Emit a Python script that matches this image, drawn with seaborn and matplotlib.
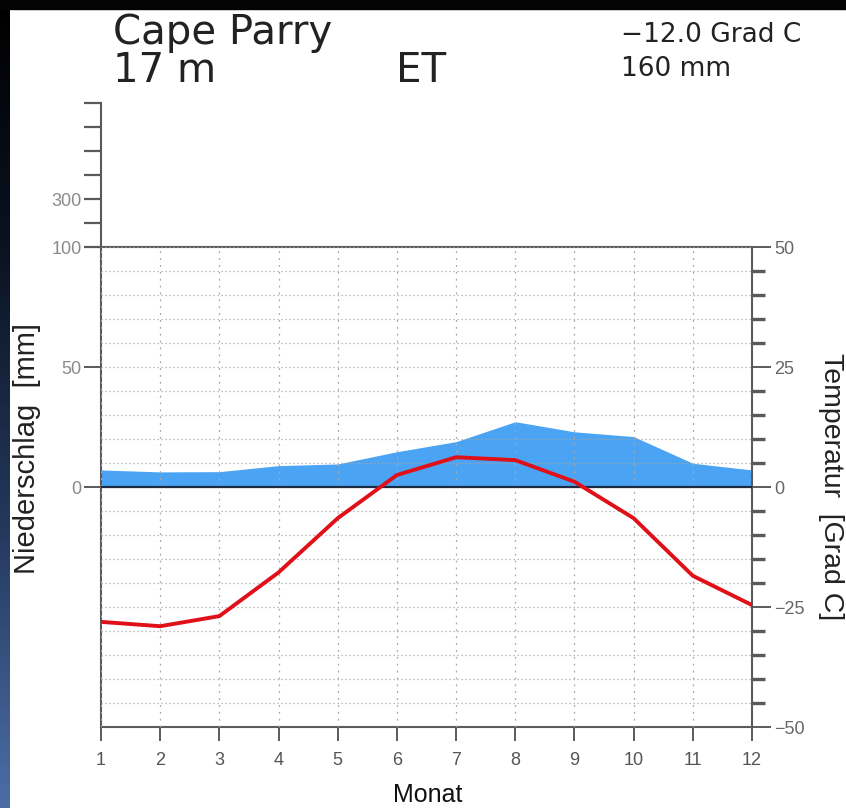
import numpy as np
import pandas as pd
import matplotlib
matplotlib.use("Agg")
import matplotlib.pyplot as plt
from matplotlib.ticker import MultipleLocator, FixedLocator
from matplotlib.colors import LinearSegmentedColormap
from matplotlib.patches import Rectangle
import seaborn as sns

# ---------------- data ----------------
months = list(range(1, 13))
precip_mm = [7.1, 6.3, 6.4, 8.9, 9.6, 14.7, 18.9, 27.2, 23.0, 21.0, 9.9, 7.1]
temp_c = [-28.1, -29.0, -26.9, -17.8, -6.5, 2.5, 6.2, 5.6, 1.1, -6.5, -18.5, -24.6]

station = "Cape Parry"
elevation = "17 m"
climate_class = "ET"
mean_temp_text = "\u221212.0 Grad C"
annual_precip_text = "160 mm"

precip_ticks = [0, 50, 100]
upper_ticks = [100, 200, 300, 400, 500, 600, 700]
upper_labels = ["", "", "300", "", "", "", ""]
temp_ticks = [-50, -25, 0, 25, 50]
temp_labels = ["\u221250", "\u221225", "0", "25", "50"]

df = pd.DataFrame({"Monat": months, "Niederschlag": precip_mm, "Temperatur": temp_c})

# ---------------- style ----------------
sns.set_theme(style="white")
plt.rcParams['font.family'] = ['Liberation Sans', 'DejaVu Sans']

W, H = 846, 808
fig = plt.figure(figsize=(W / 100, H / 100), dpi=100)
fig.patch.set_facecolor("white")

def fx(px):
    return px / W

def fy(py):
    return 1 - py / H

# background strips (dark frame)
bg = fig.add_axes([0, 0, 1, 1], zorder=-10)
bg.set_xlim(0, W)
bg.set_ylim(H, 0)
bg.axis("off")
cmap = LinearSegmentedColormap.from_list(
    "frame", [(0, "#000000"), (0.3, "#0a1220"), (0.65, "#24385c"), (1, "#4b6da6")])
grad = np.linspace(0, 1, 256).reshape(-1, 1)
bg.imshow(grad, extent=[0, 10, H, 0], aspect="auto", cmap=cmap)
bg.add_patch(Rectangle((0, 0), W, 9, color="#030303"))

spine_c = "#5a5a5a"

# ---------------- main axes ----------------
L, R, T, B = 101, 752, 247, 727
ax = fig.add_axes([fx(L), fy(B), fx(R) - fx(L), (B - T) / H])
ax.set_facecolor("none")
ax.set_xlim(1, 12)
ax.set_ylim(-100, 100)

ax.fill_between(df["Monat"], 0, df["Niederschlag"], color="#4ba3f3", lw=0, zorder=1)
ax.axhline(0, color="#1c2a44", lw=1.6, zorder=3)

ax.set_xticks(months)
ax.set_xticklabels([str(m) for m in months])
ax.set_yticks(precip_ticks)
ax.set_yticklabels([str(v) for v in precip_ticks])
ax.yaxis.set_minor_locator(MultipleLocator(10))
ax.set_axisbelow(False)
ax.grid(which="minor", axis="y", color="#a8a8a8", ls=(0, (1, 2.2)), lw=0.9, zorder=2)
ax.grid(which="major", axis="y", color="#a8a8a8", ls=(0, (1, 2.2)), lw=0.9, zorder=2)
ax.grid(which="major", axis="x", color="#a8a8a8", ls=(0, (1.5, 4)), lw=0.9, zorder=2)

ax.tick_params(axis="x", which="major", direction="out", length=10, width=1.4,
               color=spine_c, pad=8, labelsize=13, labelcolor="#555555", bottom=True)
ax.tick_params(axis="y", which="major", direction="out", length=12, width=1.4,
               color=spine_c, pad=2, labelsize=13, labelcolor="#8a8a8a", left=True)
ax.tick_params(axis="y", which="minor", length=0, left=False)
for s in ["left", "right", "bottom", "top"]:
    ax.spines[s].set_visible(True)
    ax.spines[s].set_color(spine_c)
    ax.spines[s].set_linewidth(1.5)

# temperature on the twin axis
ax2 = ax.twinx()
ax2.set_ylim(-50, 50)
sns.lineplot(data=df, x="Monat", y="Temperatur", ax=ax2, color="#e01018", lw=2.8, zorder=5)
ax2.set_xlim(1, 12)
ax2.set_yticks(temp_ticks)
ax2.set_yticklabels(temp_labels)
ax2.yaxis.set_minor_locator(MultipleLocator(5))
ax2.tick_params(axis="y", which="major", direction="out", length=14, width=1.4,
                color=spine_c, pad=2, labelsize=13, labelcolor="#666666", right=True)
ax2.tick_params(axis="y", which="minor", direction="out", length=9, width=2.4,
                color=spine_c, right=True)
ax2.set_ylabel("")
ax2.set_xlabel("")
for s in ax2.spines.values():
    s.set_visible(False)

ax.set_xlabel("")
ax.set_ylabel("")

# upper compressed precipitation scale
U_top = 103
axu = fig.add_axes([fx(L), fy(T), fx(R) - fx(L), (T - U_top) / H])
axu.set_facecolor("none")
axu.set_xlim(1, 12)
axu.set_ylim(100, 700)
axu.set_xticks([])
axu.yaxis.set_major_locator(FixedLocator(upper_ticks))
axu.set_yticklabels(upper_labels)
axu.tick_params(axis="y", direction="out", length=12, width=1.6, color=spine_c,
                pad=2, labelsize=13, labelcolor="#8a8a8a", left=True)
for s in ["right", "bottom", "top"]:
    axu.spines[s].set_visible(False)
axu.spines["left"].set_visible(True)
axu.spines["left"].set_color(spine_c)
axu.spines["left"].set_linewidth(1.5)

# ---------------- texts ----------------
tfont = ['DejaVu Sans']
fig.text(fx(113), fy(44), station, fontsize=29, color="#222222", family=tfont, va="baseline")
fig.text(fx(113), fy(82), elevation, fontsize=29, color="#222222", family=tfont, va="baseline")
fig.text(fx(396), fy(82), climate_class, fontsize=29, color="#222222", family=tfont, va="baseline")
fig.text(fx(621), fy(42), mean_temp_text, fontsize=19, color="#222222", family=tfont, va="baseline")
fig.text(fx(621), fy(76), annual_precip_text, fontsize=19, color="#222222", family=tfont, va="baseline")

fig.text(fx(27), fy(448), "Niederschlag  [mm]", rotation=90, fontsize=21,
         color="#222222", ha="center", va="center")
fig.text(fx(831), fy(487), "Temperatur  [Grad C]", rotation=-90, fontsize=20.5,
         color="#222222", ha="center", va="center")
fig.text(fx(428), fy(795), "Monat", fontsize=18, color="#111111", ha="center", va="center")

fig.savefig("out.png", dpi=100, facecolor=fig.get_facecolor())
